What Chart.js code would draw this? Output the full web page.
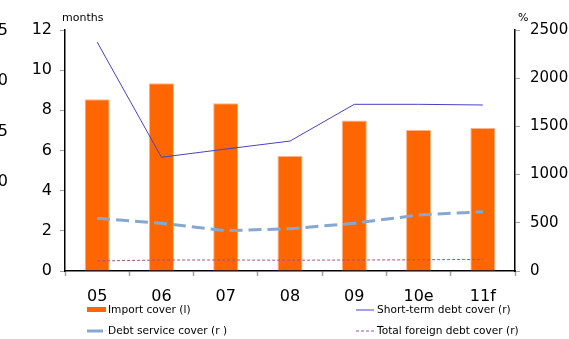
<!DOCTYPE html>
<html>
<head>
<meta charset="utf-8">
<script src="https://cdn.jsdelivr.net/npm/chart.js@4/dist/chart.umd.min.js"></script>
<style>
  html, body { margin: 0; padding: 0; background: #fff; }
  #wrap { position: relative; width: 569px; height: 339px; }
</style>
</head>
<body>
<div id="wrap"><canvas id="cover" width="569" height="339"></canvas></div>
<script>
// years
const categories = ["05", "06", "07", "08", "09", "10e", "11f"];
// months, left axis
const importCover = [8.55, 9.35, 8.35, 5.73, 7.5, 7.02, 7.12];
// %, right axis
const shortTermDebtCover = [2375, 1180, 1265, 1348, 1729, 1729, 1722];
const debtServiceCover = [547, 495, 418, 439, 495, 581, 615];
const totalForeignDebtCover = [104, 114, 114, 112, 114, 116, 121];
const leftTicks = [0, 2, 4, 6, 8, 10, 12];
const rightTicks = [0, 500, 1000, 1500, 2000, 2500];
// scraps of the neighbouring panel's axis on the far left
const edgeLabels = ["25", "20", "15", "10"];

const FONT = "'DejaVu Sans', Verdana, sans-serif";
const ORANGE = "#ff6600";

const extras = {
  id: "extras",
  afterDraw(chart) {
    const ctx = chart.ctx;
    ctx.save();
    ctx.fillStyle = "#000";
    ctx.textBaseline = "middle";

    // unit labels above each axis
    ctx.font = "11px " + FONT;
    ctx.textAlign = "left";
    ctx.fillText("months", 62, 18);
    ctx.fillText("%", 518, 18);

    // edge scraps
    ctx.font = "16px " + FONT;
    ctx.textAlign = "right";
    edgeLabels.forEach((t, i) => ctx.fillText(t, 8, 31 + i * 50.3));

    // legend
    const ds = chart.data.datasets;
    ctx.font = "10.6px " + FONT;
    ctx.textAlign = "left";
    const rows = [310, 331];
    const cols = [87, 356];
    const items = [
      { d: ds[0], col: 0, row: 0 },
      { d: ds[1], col: 1, row: 0 },
      { d: ds[2], col: 0, row: 1 },
      { d: ds[3], col: 1, row: 1 }
    ];
    items.forEach(it => {
      const x = cols[it.col], y = rows[it.row];
      if (it.d.type === "bar") {
        ctx.fillStyle = it.d.backgroundColor;
        ctx.fillRect(x, y - 3, 19, 5);
      } else {
        ctx.strokeStyle = it.d.borderColor;
        ctx.lineWidth = it.d.borderWidth;
        // the thick dashed series shows as a short solid stroke
        ctx.setLineDash(it.d.borderWidth > 1 ? [] : (it.d.borderDash || []));
        ctx.beginPath();
        ctx.moveTo(x, y);
        ctx.lineTo(x + (it.d.borderWidth > 1 ? 16 : 18), y);
        ctx.stroke();
        ctx.setLineDash([]);
      }
      ctx.fillStyle = "#000";
      ctx.fillText(it.d.label, x + 21, y);
    });
    ctx.restore();
  }
};

new Chart(document.getElementById("cover"), {
  data: {
    labels: categories,
    datasets: [
      {
        type: "bar",
        label: "Import cover (l)",
        data: importCover,
        yAxisID: "yL",
        backgroundColor: ORANGE,
        borderColor: "#ffb38a",
        borderWidth: { top: 1, left: 1, right: 1, bottom: 0 },
        barPercentage: 0.39,
        categoryPercentage: 1,
        order: 4
      },
      {
        type: "line",
        label: "Short-term debt cover (r)",
        data: shortTermDebtCover,
        yAxisID: "yR",
        borderColor: "#4a40c0",
        borderWidth: 1,
        pointRadius: 0,
        tension: 0,
        order: 1
      },
      {
        type: "line",
        label: "Debt service cover (r )",
        data: debtServiceCover,
        yAxisID: "yR",
        borderColor: "#86a8d0",
        borderWidth: 3,
        borderDash: [13, 6],
        pointRadius: 0,
        tension: 0,
        order: 2
      },
      {
        type: "line",
        label: "Total foreign debt cover (r)",
        data: totalForeignDebtCover,
        yAxisID: "yR",
        borderColor: "#a0508a",
        borderWidth: 1,
        borderDash: [3, 2],
        pointRadius: 0,
        tension: 0,
        order: 3
      }
    ]
  },
  options: {
    responsive: false,
    animation: false,
    layout: { padding: { top: 30, left: 0, right: 0, bottom: 0 } },
    plugins: {
      legend: { display: false },
      tooltip: { enabled: false }
    },
    scales: {
      x: {
        offset: true,
        grid: {
          display: true,
          drawOnChartArea: false,
          offset: true,
          color: "#a0a0a0",
          tickLength: 5,
          tickWidth: 1.5
        },
        border: { color: "#000", width: 1.5 },
        ticks: { color: "#000", font: { family: FONT, size: 16 }, padding: 11, maxRotation: 0 },
        afterFit(s) { s.height = 68; }
      },
      yL: {
        position: "left",
        min: 0,
        max: 12,
        afterBuildTicks(s) { s.ticks = leftTicks.map(v => ({ value: v })); },
        grid: { drawOnChartArea: false, color: "#a0a0a0", tickLength: 5 },
        border: { color: "#000", width: 1.5 },
        ticks: { color: "#000", font: { family: FONT, size: 16 }, padding: 8 },
        afterFit(s) { s.width = 65; }
      },
      yR: {
        position: "right",
        min: 0,
        max: 2500,
        afterBuildTicks(s) { s.ticks = rightTicks.map(v => ({ value: v })); },
        grid: { drawOnChartArea: false, color: "#a0a0a0", tickLength: 5 },
        border: { color: "#000", width: 1.5 },
        ticks: {
          color: "#000",
          font: { family: FONT, size: 15 },
          padding: 10,
          callback: v => String(v)
        },
        afterFit(s) { s.width = 54; }
      }
    }
  },
  plugins: [extras]
});
</script>
</body>
</html>
